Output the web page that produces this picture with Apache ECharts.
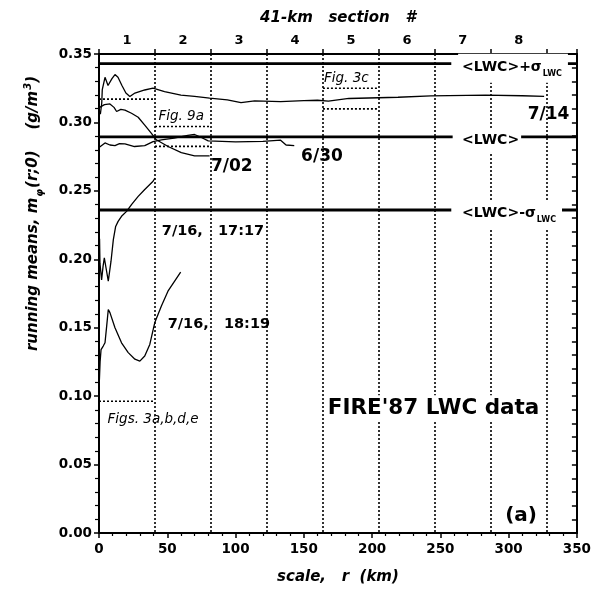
<!DOCTYPE html>
<html><head><meta charset="utf-8">
<script src="https://cdn.jsdelivr.net/npm/echarts@6/dist/echarts.min.js"></script>
<style>html,body{margin:0;padding:0;background:#fff}#c{width:594px;height:590px}</style>
</head><body><div id="c"></div>
<script>
// ---- data ----
const sectionLabels = ['1','2','3','4','5','6','7','8'];
const sectionLength = 41; // km
const xTicks = [0, 50, 100, 150, 200, 250, 300, 350];
const lwcMean = 0.2895;
const lwcSigma = 0.0535;
// running means [r (km), m (g/m^3)]
const run0714 = [[1.0,0.306],[2.0,0.314],[2.4,0.324],[4.4,0.333],[6.6,0.327],[9.5,0.332],[11.7,0.335],[13.9,0.333],[16.8,0.327],[19.7,0.3215],[22.6,0.319],[26.3,0.3215],[33.5,0.3237],[39.5,0.325],[48,0.3225],[60,0.320],[70,0.319],[81,0.3177],[94,0.3165],[104,0.3145],[114,0.3157],[133,0.3152],[150,0.316],[160,0.3162],[168,0.3155],[183,0.3175],[219,0.3184],[243,0.3194],[283,0.320],[310,0.3195],[326,0.319]];
const run0702 = [[0.5,0.311],[4,0.313],[8,0.3135],[11,0.311],[12.9,0.308],[16,0.3095],[19,0.309],[23.8,0.3067],[28.7,0.3038],[33.5,0.298],[38.4,0.292],[42,0.2873],[50.6,0.2824],[60.3,0.278],[70,0.2756],[81,0.2756]];
const run0630 = [[0.5,0.282],[4.4,0.285],[8,0.2835],[11.7,0.283],[15,0.2845],[19,0.2844],[26,0.2824],[33.5,0.283],[39.6,0.286],[45.7,0.2873],[55,0.2885],[65,0.2905],[70,0.2912],[75,0.289],[80,0.2865],[100,0.2858],[120,0.2862],[133,0.287],[137,0.2835],[143,0.283]];
const run0716a = [[0.4,0.215],[0.7,0.197],[1.9,0.185],[3.0,0.195],[3.9,0.201],[5.1,0.194],[6.8,0.184],[8.8,0.1986],[10.5,0.2144],[12.2,0.224],[14,0.2277],[16.5,0.2314],[20.2,0.235],[23.8,0.24],[28.7,0.246],[33.5,0.251],[39.6,0.257],[41,0.2594]];
const run0716b = [[0.3,0.112],[0.8,0.125],[1.5,0.134],[3.1,0.1366],[4.4,0.139],[5.6,0.151],[6.8,0.1633],[8,0.161],[11.7,0.15],[16.5,0.139],[21.4,0.1318],[26.3,0.127],[29.9,0.1256],[33.5,0.1293],[37.2,0.1378],[40.8,0.1536],[45.7,0.1658],[50.5,0.1767],[59.8,0.1906]];
// dotted reference boxes: [r start, r end, m lower, m upper]
const boxFigs3 = [0, 41, 0.0963, 0.317];
const boxFig9a = [41, 82, 0.2825, 0.297];
const boxFig3c = [164, 205, 0.3099, 0.325];
// gaps in the <LWC> lines (where the labels sit)
const gapPlus = [258, 336];
const gapMean = [259, 306];
const gapMinus = [258, 332];

// ---- build ----
const FF = '"DejaVu Sans", Verdana, sans-serif';
const BLACK = '#000';

function hline(v, gap) {
  return [[0, v], [gap[0], v], [(gap[0]+gap[1])/2, '-'], [gap[1], v], [350, v]];
}
function boxLines(b) {
  return [[b[0], b[3]], [b[1], b[3]], [b[1], '-'], [b[0], b[2]], [b[1], b[2]]];
}
function curve(data) {
  return {type:'line', data, symbol:'none', xAxisIndex:0, yAxisIndex:0,
    lineStyle:{color:BLACK, width:1.3}, z:3, silent:true};
}
function thick(data) {
  return {type:'line', data, symbol:'none', xAxisIndex:0, yAxisIndex:0,
    lineStyle:{color:BLACK, width:2.8}, z:4, silent:true};
}
function dotted(data) {
  return {type:'line', data, symbol:'none', xAxisIndex:0, yAxisIndex:0,
    lineStyle:{color:BLACK, width:1.6, type:[2,2]}, z:2, silent:true};
}
const lblBase = {fontFamily:FF, color:BLACK, fontWeight:'bold', fontSize:17, opacity:1, textBorderWidth:0};
const richLWC = {
  m:{fontFamily:FF, fontWeight:'bold', fontSize:14, color:BLACK, verticalAlign:'top', lineHeight:17},
  s:{fontFamily:FF, fontWeight:'bold', fontSize:8, color:BLACK, verticalAlign:'top', lineHeight:17, padding:[10,0,0,1]}
};
const italicSmall = {fontWeight:'normal', fontStyle:'italic', fontSize:13.5};
function note(x, y, text, extra) {
  return {value:[x, y], label:Object.assign({show:true, position:'right', distance:0, align:'left', verticalAlign:'middle', formatter:text}, lblBase, extra||{})};
}
const notes = [
  note(314, 0.3055, '7/14'),
  note(82, 0.2678, '7/02'),
  note(148, 0.2751, '6/30'),
  note(46, 0.2202, '7/16,   17:17', {fontSize:14.5}),
  note(50.3, 0.1524, '7/16,   18:19', {fontSize:14.5}),
  note(43.5, 0.3043, 'Fig. 9a', italicSmall),
  note(164.8, 0.3318, 'Fig. 3c', italicSmall),
  note(6.3, 0.0831, 'Figs. 3a,b,d,e', italicSmall),
  note(167.5, 0.0911, "FIRE'87 LWC data", {fontSize:21.5, backgroundColor:'#fff', padding:[2,0,2,0]}),
  note(297.5, 0.0124, '(a)', {fontSize:20}),
  note(263, 0.3395, '{m|<LWC>+σ}{s|LWC}', {rich:richLWC, backgroundColor:'#fff', padding:[6,6,6,4]}),
  note(263, 0.2865, '{m|<LWC>}', {rich:richLWC, backgroundColor:'#fff', padding:[4,2,2,4]}),
  note(263, 0.2326, '{m|<LWC>-σ}{s|LWC}', {rich:richLWC, backgroundColor:'#fff', padding:[6,6,6,4]})
];
const sectionPts = sectionLabels.map((s, i) => ({value:[sectionLength*(i+0.5), 0.35],
  label:{show:true, position:'top', distance:7, formatter:s, fontFamily:FF, fontWeight:'bold', fontSize:13, color:BLACK, opacity:1}}));

const axisTitle = {fontFamily:FF, fontWeight:'bold', fontStyle:'italic', fontSize:15, color:BLACK};
const noteSeries = (data) => ({type:'scatter', data, symbol:'circle', symbolSize:0,
  itemStyle:{color:BLACK, opacity:1}, z:10, clip:false, silent:true,
  emphasis:{disabled:true}});
const option = {
  animation:false,
  backgroundColor:'#fff',
  grid:{left:99, top:54, width:480, height:480, containLabel:false},
  xAxis:[
    {type:'value', position:'bottom', min:0, max:350, interval:50,
     axisLine:{onZero:false, lineStyle:{color:BLACK, width:2}},
     axisTick:{length:5, lineStyle:{color:BLACK, width:1.5}},
     minorTick:{show:true, splitNumber:5, length:3, lineStyle:{color:BLACK, width:1.2}},
     axisLabel:{margin:9, fontFamily:FF, fontWeight:'bold', fontSize:13.5, color:BLACK,
       formatter:v => xTicks.indexOf(v) >= 0 ? String(v) : ''},
     splitLine:{show:false},
     name:'scale,   r  (km)', nameLocation:'middle', nameGap:37, nameTextStyle:axisTitle},
    {type:'value', position:'top', min:0, max:350, interval:sectionLength,
     axisLine:{onZero:false, lineStyle:{color:BLACK, width:2}},
     axisTick:{length:5, lineStyle:{color:BLACK, width:1.5}},
     axisLabel:{show:false},
     splitLine:{show:true, lineStyle:{color:BLACK, width:1.6, type:[2,2]}},
     name:'41-km   section   #', nameLocation:'middle', nameGap:28, nameTextStyle:axisTitle}
  ],
  yAxis:[
    {type:'value', position:'left', min:0, max:0.35, interval:0.05,
     axisLine:{onZero:false, lineStyle:{color:BLACK, width:2}},
     axisTick:{length:5, lineStyle:{color:BLACK, width:1.5}},
     minorTick:{show:true, splitNumber:5, length:4, lineStyle:{color:BLACK, width:1.2}},
     axisLabel:{margin:7, fontFamily:FF, fontWeight:'bold', fontSize:13.5, color:BLACK, formatter:v => v.toFixed(2)},
     splitLine:{show:false},
     name:'{t|running means, m}{s|φ}{t|(r;0)    (g/m}{p|3}{t|)}', nameLocation:'middle', nameRotate:90, nameGap:56,
     nameTextStyle:{padding:[0,0,0,160], rich:{
       t:Object.assign({verticalAlign:'top', lineHeight:20, padding:[3,0,0,0]}, axisTitle),
       s:Object.assign({}, axisTitle, {fontSize:10, verticalAlign:'top', lineHeight:20, padding:[12,1,0,1]}),
       p:Object.assign({}, axisTitle, {fontSize:10, verticalAlign:'top', lineHeight:20, padding:[0,0,0,1]})
     }}},
    {type:'value', position:'right', min:0, max:0.35, interval:0.01,
     axisLine:{onZero:false, lineStyle:{color:BLACK, width:2}},
     axisTick:{inside:true, length:5, lineStyle:{color:BLACK, width:1.5}},
     axisLabel:{show:false}, splitLine:{show:false}}
  ],
  series:[
    dotted(boxLines(boxFigs3)),
    dotted(boxLines(boxFig9a)),
    dotted(boxLines(boxFig3c)),
    thick(hline(lwcMean + lwcSigma, gapPlus)),
    thick(hline(lwcMean, gapMean)),
    thick(hline(lwcMean - lwcSigma, gapMinus)),
    curve(run0714), curve(run0702), curve(run0630), curve(run0716a), curve(run0716b),
    noteSeries(notes),
    noteSeries(sectionPts)
  ]
};
const chart = echarts.init(document.getElementById('c'), null, {renderer:'canvas'});
chart.setOption(option);
</script></body></html>
